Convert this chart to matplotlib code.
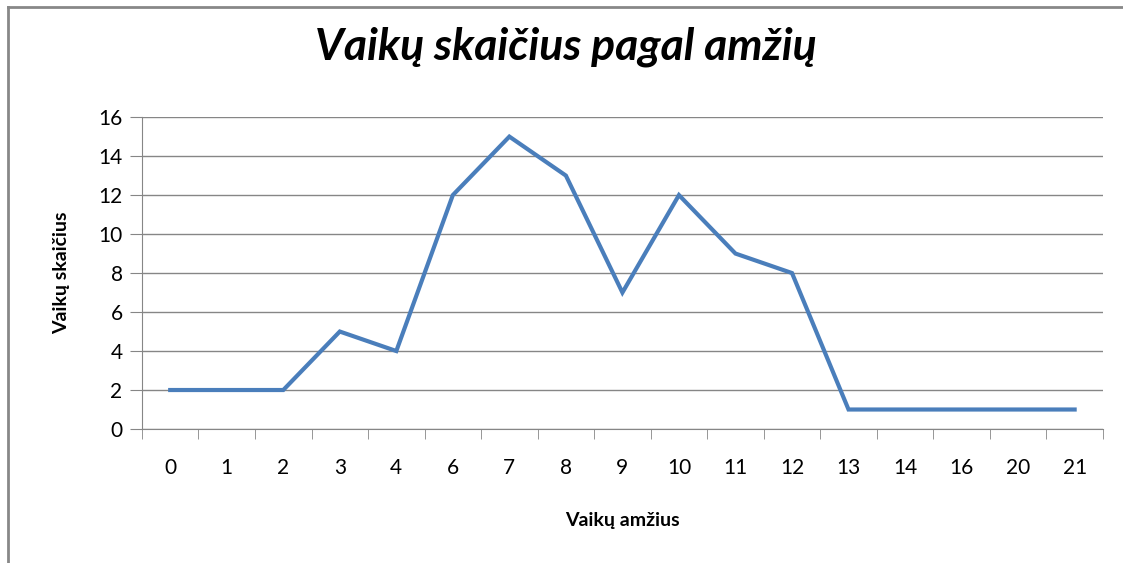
import matplotlib.pyplot as plt
from matplotlib.lines import Line2D

# Data
ages = ['0', '1', '2', '3', '4', '6', '7', '8', '9', '10', '11', '12', '13', '14', '16', '20', '21']
counts = [2, 2, 2, 5, 4, 12, 15, 13, 7, 12, 9, 8, 1, 1, 1, 1, 1]

plt.rcParams['font.family'] = ['Lato', 'DejaVu Sans']

fig = plt.figure(figsize=(11.23, 5.63), dpi=100)
ax = fig.add_axes([0.1264, 0.238, 0.8557, 0.554])

x = range(len(ages))
ax.plot(x, counts, color='#4A7EBB', linewidth=3, solid_joinstyle='miter')

ax.set_xlim(-0.5, len(ages) - 0.5)
ax.set_ylim(0, 16)
ax.set_yticks(range(0, 17, 2))
ax.set_xticks(list(x))
ax.set_xticklabels(ages)
ax.set_xticks([i - 0.5 for i in range(len(ages) + 1)], minor=True)

# Grid and axes styling
ax.grid(axis='y', color='#868686', linewidth=1)
ax.set_axisbelow(True)
for side in ['top', 'right']:
    ax.spines[side].set_visible(False)
ax.spines['left'].set_color('#868686')
ax.spines['bottom'].set_color('#868686')
ax.tick_params(axis='x', which='major', length=0, pad=21, labelsize=15)
ax.tick_params(axis='x', which='minor', length=7, color='#868686')
ax.tick_params(axis='y', length=9, color='#868686', labelsize=15, pad=5)

ax.set_xlabel('Vaikų amžius', fontsize=14, fontweight='bold', labelpad=24)
ax.set_ylabel('Vaikų skaičius', fontsize=14, fontweight='bold', labelpad=20)

fig.text(0.504, 0.917, 'Vaikų skaičius pagal amžių', fontsize=32,
         fontweight='bold', style='italic', ha='center', va='center')

# Chart frame (left and top edges)
fig.add_artist(Line2D([0.0067, 0.0067], [0.0, 0.988], transform=fig.transFigure,
                      color='#888888', linewidth=2))
fig.add_artist(Line2D([0.0067, 1.0], [0.988, 0.988], transform=fig.transFigure,
                      color='#888888', linewidth=2))

fig.savefig('out.png', dpi=100)
